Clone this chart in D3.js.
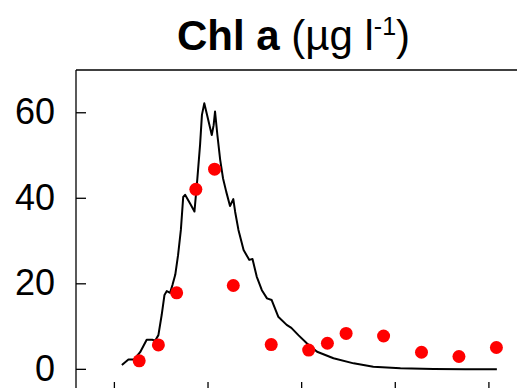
<!DOCTYPE html>
<html>
<head>
<meta charset="utf-8">
<script src="https://cdn.jsdelivr.net/npm/d3@7"></script>
<style>
  html, body { margin: 0; padding: 0; background: #fff; }
  svg { display: block; }
  text { font-family: "Liberation Sans", Arial, sans-serif; }
</style>
</head>
<body>
<svg id="chart" width="517" height="388"></svg>
<script>
// Model line (time, Chl a)
const lineTime = [21.6, 23.0, 24.2, 25.5, 26.9, 28.1, 28.7, 29.4, 30.1, 30.7, 31.2, 31.9, 32.4, 33.0, 33.6, 34.2, 34.7, 35.1, 36.2, 37.1, 37.7, 38.3, 38.7, 39.2, 39.8, 40.8, 41.2, 41.5, 42.0, 42.6, 43.2, 43.9, 44.7, 45.4, 45.8, 46.5, 47.6, 48.8, 49.5, 50.4, 51.5, 52.6, 53.6, 55.0, 56.8, 57.8, 59.3, 61.1, 63.3, 66.8, 71.1, 75.3, 81.1, 88.2, 94.9, 101.7];
const lineChl  = [1.0, 2.3, 2.3, 4.0, 6.9, 6.9, 6.7, 8.0, 12.7, 17.4, 18.3, 17.9, 19.7, 22.1, 26.7, 32.6, 40.3, 40.8, 38.7, 36.9, 44.3, 52.5, 59.5, 62.2, 59.5, 54.8, 57.1, 60.3, 54.8, 49.0, 44.7, 41.5, 38.2, 39.8, 36.8, 32.6, 27.9, 25.6, 25.8, 21.7, 18.5, 16.6, 16.2, 12.3, 10.4, 9.7, 8.0, 6.1, 4.1, 2.6, 1.4, 0.6, 0.23, 0.07, 0.0, 0.0];
// Observations
const obsTime = [25.3, 29.4, 33.3, 37.4, 41.4, 45.4, 53.5, 61.5, 65.5, 69.5, 77.5, 85.6, 93.6, 101.6];
const obsChl  = [2.0, 5.7, 17.9, 42.1, 46.8, 19.6, 5.8, 4.5, 6.1, 8.4, 7.8, 4.0, 3.0, 5.1];
// Ticks
const yTicks = [0, 20, 40, 60];
const xTicks = [20, 40, 60, 80, 100];

(function () {
const svg = d3.select("#chart");
const mLeft = 76, mRight = 517, mTop = 70, mBottom = 392;

const x = d3.scaleLinear().domain([11.8, 106]).range([mLeft, mRight]);
const y = d3.scaleLinear().domain([-5.3, 70]).range([mBottom, mTop]);

// Title
const title = svg.append("text")
  .attr("x", 293.5).attr("y", 50)
  .attr("text-anchor", "middle")
  .attr("font-size", 42)
  .attr("fill", "#000");
title.append("tspan").attr("font-weight", "bold").text("Chl a");
title.append("tspan").text(" (\u00b5g l");
title.append("tspan").attr("font-size", 25).attr("dy", -15).text("-1");
title.append("tspan").attr("dy", 15).text(")");

// Frame top
svg.append("line")
  .attr("x1", mLeft).attr("x2", mRight)
  .attr("y1", mTop).attr("y2", mTop)
  .attr("stroke", "#000").attr("stroke-width", 1.3);

// Y axis
const yAxis = d3.axisLeft(y).tickValues(yTicks).tickSizeInner(-10).tickSizeOuter(0).tickPadding(21).offset(0);
const gy = svg.append("g").attr("transform", `translate(${mLeft},0)`).call(yAxis);
gy.selectAll("path, line").attr("stroke", "#000").attr("stroke-width", 1.3);
gy.selectAll("text").attr("font-size", 36).attr("fill", "#000")
  .attr("font-family", "Liberation Sans, Arial, sans-serif");

// X axis
const xAxis = d3.axisBottom(x).tickValues(xTicks).tickSizeInner(-10).tickSizeOuter(0).tickFormat(() => "").offset(0);
const gx = svg.append("g").attr("transform", `translate(0,${mBottom})`).call(xAxis);
gx.selectAll("path, line").attr("stroke", "#000").attr("stroke-width", 1.3);

// Model line
const lineGen = d3.line().x((d, i) => x(lineTime[i])).y((d, i) => y(lineChl[i]));
svg.append("path")
  .datum(lineChl)
  .attr("d", lineGen)
  .attr("fill", "none")
  .attr("stroke", "#000")
  .attr("stroke-width", 2)
  .attr("stroke-linejoin", "round");

// Observations
svg.append("g").selectAll("circle")
  .data(obsChl)
  .join("circle")
  .attr("cx", (d, i) => x(obsTime[i]))
  .attr("cy", d => y(d))
  .attr("r", 6.5)
  .attr("fill", "#ff0000");
})();
</script>
</body>
</html>
